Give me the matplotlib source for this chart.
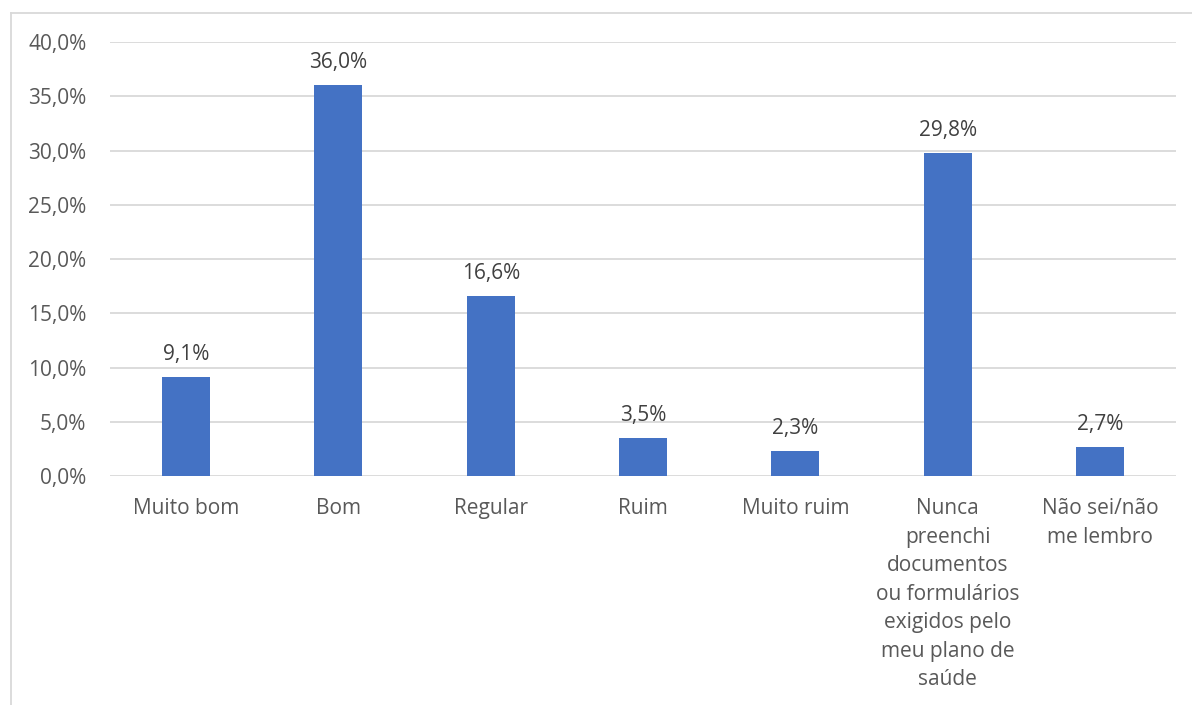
import matplotlib.pyplot as plt
from matplotlib.lines import Line2D

# categorias e valores (%)
categorias = ["Muito bom", "Bom", "Regular", "Ruim", "Muito ruim",
              "Nunca\npreenchi\ndocumentos\nou formulários\nexigidos pelo\nmeu plano de\nsaúde",
              "Não sei/não\nme lembro"]
valores = [9.1, 36.0, 16.6, 3.5, 2.3, 29.8, 2.7]
yticks = [0, 5, 10, 15, 20, 25, 30, 35, 40]

plt.rcParams['font.family'] = ['Open Sans', 'DejaVu Sans']
cinza = '#595959'
fs = 15

fig = plt.figure(figsize=(11.92, 7.05), dpi=100)
ax = fig.add_axes([0.0923, 0.3248, 0.8943, 0.6156])

x = range(len(categorias))
bars = ax.bar(x, valores, width=0.315, color='#4472C4', zorder=3)

for b, v in zip(bars, valores):
    ax.text(b.get_x() + b.get_width() / 2, v + 1.1, f"{v:.1f}%".replace('.', ','),
            ha='center', va='bottom', fontsize=fs, color='#404040')

ax.set_xlim(-0.5, len(categorias) - 0.5)
ax.set_ylim(0, 40)
ax.set_yticks(yticks)
ax.set_yticklabels([f"{t:.1f}%".replace('.', ',') for t in yticks], fontsize=fs, color=cinza)
ax.set_xticks(list(x))
ax.set_xticklabels(categorias, fontsize=fs, color=cinza, linespacing=1.47)
ax.tick_params(length=0)
ax.tick_params(axis='x', pad=16)
ax.tick_params(axis='y', pad=17)
ax.yaxis.grid(True, color='#d9d9d9', linewidth=1.3, zorder=0)
for s in ax.spines.values():
    s.set_visible(False)

# moldura do gráfico
fx, fy = 11 / 1192, 1 - 13 / 705
fig.add_artist(Line2D([fx, fx], [0, fy], color='#d9d9d9', linewidth=1.3, transform=fig.transFigure))
fig.add_artist(Line2D([fx, 1], [fy, fy], color='#d9d9d9', linewidth=1.3, transform=fig.transFigure))

fig.savefig("out.png", dpi=100)
